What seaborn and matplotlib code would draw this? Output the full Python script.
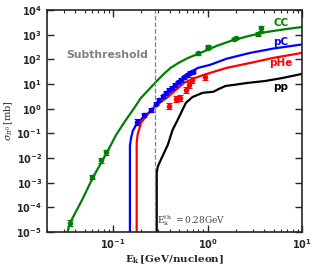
import numpy as np
import pandas as pd
import matplotlib
matplotlib.use("Agg")
import matplotlib.pyplot as plt
import seaborn as sns

# model curves (E in GeV/nucleon, sigma in mb)
cc_E = [0.033, 0.035, 0.0468, 0.0617, 0.0865, 0.1076, 0.137, 0.166, 0.197, 0.240, 0.284, 0.339,
        0.407, 0.501, 0.617, 0.843, 1.26, 1.86, 2.82, 4.27, 6.61, 10]
cc_sig = [1e-5, 2.3e-5, 1.9e-4, 1.7e-3, 1.7e-2, 8.5e-2, 0.35, 1.0, 2.7, 6.0, 12, 24,
          45, 74, 112, 182, 355, 600, 910, 1290, 1660, 2040]

pc_E = [0.151, 0.151, 0.155, 0.162, 0.178, 0.209, 0.251, 0.316, 0.407, 0.501, 0.631,
        0.794, 1.07, 1.58, 2.82, 5.01, 10]
pc_sig = [1e-5, 0.032, 0.063, 0.126, 0.24, 0.44, 0.81, 2.1, 5.8, 13, 28,
          45, 60, 105, 182, 275, 400]

phe_E = [0.178, 0.178, 0.182, 0.191, 0.197, 0.229, 0.269, 0.316, 0.380, 0.468, 0.562,
         0.708, 0.912, 1.58, 2.82, 5.01, 10]
phe_sig = [1e-5, 0.04, 0.089, 0.166, 0.26, 0.55, 1.07, 1.8, 2.95, 6.0, 11,
           16.6, 23.4, 44.7, 71, 115, 182]

pp_E = [0.290, 0.290, 0.298, 0.320, 0.380, 0.427, 0.483, 0.589, 0.692, 0.891,
        1.148, 1.318, 1.549, 1.862, 2.63, 4.07, 6.17, 10]
pp_sig = [1e-5, 2.5e-3, 4.5e-3, 8.3e-3, 0.034, 0.138, 0.35, 1.7, 2.95, 4.4,
          4.8, 6.3, 8.3, 9.1, 11, 13.2, 17.4, 25.7]

# measurements
cc_dE = [0.035, 0.060, 0.075, 0.084, 0.80, 1.0, 1.02, 1.9, 2.0, 3.4, 3.7]
cc_dsig = [2.3e-5, 1.7e-3, 8e-3, 1.7e-2, 180, 300, 330, 650, 700, 1100, 1800]
cc_derr = [0.35, 0.25, 0.25, 0.25, 0.15, 0.15, 0.15, 0.1, 0.1, 0.2, 0.3]

pc_dE = [0.179, 0.212, 0.251, 0.284, 0.305, 0.336, 0.361, 0.389, 0.418, 0.45,
         0.483, 0.52, 0.558, 0.60, 0.646, 0.695]
pc_dsig = [0.29, 0.55, 0.89, 1.55, 2.24, 3.2, 4.4, 5.8, 6.9, 9.1,
           12, 14.5, 19, 23, 28, 31]
pc_derr = [0.3, 0.2, 0.2, 0.15, 0.15, 0.15, 0.15, 0.15, 0.15, 0.15,
           0.15, 0.15, 0.15, 0.15, 0.15, 0.15]

phe_dE = [0.389, 0.46, 0.507, 0.586, 0.63, 0.68, 0.95]
phe_dsig = [1.3, 2.5, 2.7, 5.8, 9.1, 14.5, 19]
phe_derr = [0.35, 0.3, 0.3, 0.3, 0.3, 0.3, 0.35]

sns.set_style("ticks")
plt.rcParams["mathtext.fontset"] = "custom"
plt.rcParams["mathtext.rm"] = "DejaVu Serif"
plt.rcParams["mathtext.it"] = "DejaVu Serif:italic"
plt.rcParams["mathtext.bf"] = "DejaVu Serif:bold"
plt.rcParams["font.family"] = ["DejaVu Sans"]

fig = plt.figure(figsize=(3.15, 2.70), dpi=100)
ax = fig.add_axes([0.149, 0.141, 0.81, 0.822])

curves = [(cc_E, cc_sig, "green"), (pc_E, pc_sig, "blue"),
          (phe_E, phe_sig, "red"), (pp_E, pp_sig, "black")]
for E, s, c in curves:
    d = pd.DataFrame({"E": E, "sig": s})
    sns.lineplot(data=d, x="E", y="sig", sort=False, estimator=None,
                 color=c, lw=1.6, ax=ax)

for E, s, err, c in [(cc_dE, cc_dsig, cc_derr, "green"),
                     (pc_dE, pc_dsig, pc_derr, "blue"),
                     (phe_dE, phe_dsig, phe_derr, "red")]:
    E = np.array(E); s = np.array(s); err = np.array(err)
    ax.errorbar(E, s, yerr=[s - s / (1 + err), s * err], fmt="o", ms=3,
                color=c, capsize=2, elinewidth=0.8, capthick=0.8)

ax.axvline(0.28, color="gray", ls="--", lw=0.9)

ax.set_xscale("log")
ax.set_yscale("log")
ax.set_xlim(0.02, 10)
ax.set_ylim(1e-5, 1e4)
ax.set_yticks([10.0 ** k for k in range(-5, 5)])

ax.tick_params(which="both", direction="in", top=True, right=True,
               labelsize=7, width=1)
ax.tick_params(which="major", length=5)
ax.tick_params(which="minor", length=2.5, width=0.8)
for lab in ax.get_xticklabels() + ax.get_yticklabels():
    lab.set_fontweight("bold")
for sp in ax.spines.values():
    sp.set_linewidth(1.2)

ax.set_xlabel(r"$\mathbf{E_k\,[GeV/nucleon]}$", fontsize=7.5, labelpad=2)
ax.set_ylabel(r"$\sigma_{\pi^0}\,[\mathrm{mb}]$", fontsize=7, labelpad=1)

ax.text(0.0865, 150, "Subthreshold", color="gray", fontsize=7.8,
        fontweight="bold", ha="center", va="center")
ax.text(0.295, 1.5e-5, r"$\mathrm{E_k^{th}}$ $\mathrm{=0.28GeV}$", color="#444444",
        fontsize=6.5, ha="left", va="bottom")

for lbl, c, y in [("CC", "green", 2900), ("pC", "blue", 500),
                  ("pHe", "red", 71), ("pp", "black", 7.6)]:
    ax.text(6.0, y, lbl, color=c, fontsize=7.5, fontweight="bold",
            ha="center", va="center")

fig.savefig("out.png", dpi=100)
